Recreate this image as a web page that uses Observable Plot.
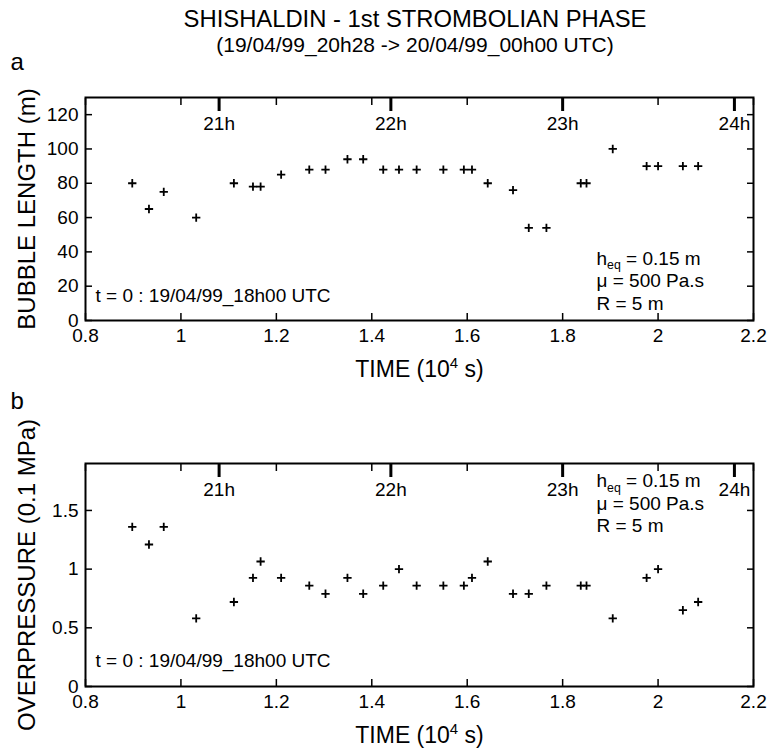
<!DOCTYPE html>
<html>
<head>
<meta charset="utf-8">
<script src="https://cdn.jsdelivr.net/npm/d3@7"></script>
<script src="https://cdn.jsdelivr.net/npm/@observablehq/plot@0.6"></script>
<style>
  body { margin: 0; background: #fff; }
  #wrap { position: relative; width: 771px; height: 751px; font-family: "Liberation Sans", Arial, Helvetica, sans-serif; color: #000; background: #fff; }
  #head { position: relative; height: 56px; }
  .tl { position: absolute; left: 415px; transform: translateX(-50%); white-space: nowrap; line-height: 1; }
  svg { display: block; }
</style>
</head>
<body>
<div id="wrap">
  <div id="head">
    <div class="tl" id="title" style="top:7px;font-size:23.8px"></div>
    <div class="tl" id="subtitle" style="top:34px;font-size:21px"></div>
  </div>
  <div id="charts"></div>
</div>
<script>
// ---------- data ----------
const titleText = "SHISHALDIN - 1st STROMBOLIAN PHASE";
const subtitleText = "(19/04/99_20h28 -> 20/04/99_00h00 UTC)";
const timeTicks = [0.8, 1, 1.2, 1.4, 1.6, 1.8, 2, 2.2];           // 10^4 s
const hourLabels = ["21h", "22h", "23h", "24h"];
const hourTicks = [1.08, 1.44, 1.80, 2.16];                        // 10^4 s after 18h00
const lengthTicks = [0, 20, 40, 60, 80, 100, 120];
const pressureTicks = [0, 0.5, 1, 1.5];
const times = [0.898, 0.933, 0.964, 1.032, 1.111, 1.151, 1.167, 1.210, 1.269, 1.303,
               1.349, 1.382, 1.424, 1.457, 1.494, 1.550, 1.593, 1.610, 1.643, 1.696,
               1.729, 1.766, 1.838, 1.850, 1.905, 1.976, 2.000, 2.052, 2.084];
const bubbleLength = [80, 65, 75, 60, 80, 78, 78, 85, 88, 88,
                      94, 94, 88, 88, 88, 88, 88, 88, 80, 76,
                      54, 54, 80, 80, 100, 90, 90, 90, 90];
const overpressure = [1.36, 1.21, 1.36, 0.58, 0.72, 0.925, 1.065, 0.925, 0.86, 0.79,
                      0.925, 0.79, 0.86, 1.0, 0.86, 0.86, 0.86, 0.925, 1.065, 0.79,
                      0.79, 0.86, 0.86, 0.86, 0.58, 0.925, 1.0, 0.65, 0.72];
const paramLines = ["h_{eq} = 0.15 m", "\u03bc = 500 Pa.s", "R = 5 m"];
const originNote = "t = 0 : 19/04/99_18h00 UTC";
const xLabel = "TIME (10^{4} s)";

const FONT = '"Liberation Sans", Arial, Helvetica, sans-serif';

document.getElementById("title").textContent = titleText;
document.getElementById("subtitle").textContent = subtitleText;

function panel({values, yDomain, yTicks, yLabel, letter, height, marginTop, marginBottom, letterDy, paramsAnchor, paramsDy, noteDy}) {
  const data = times.map((t, i) => ({t, v: values[i]}));
  const mid = {lineAnchor: "middle"};
  return Plot.plot({
    width: 771, height, marginLeft: 85, marginRight: 18, marginTop, marginBottom,
    x: {domain: [0.8, 2.2], axis: null},
    y: {domain: yDomain, axis: null},
    style: {fontFamily: FONT, fontSize: "19px", color: "black", background: "white", overflow: "visible"},
    marks: [
      Plot.axisX({anchor: "bottom", ticks: timeTicks, tickSize: -7, tickPadding: 15, strokeWidth: 1.5, label: null, tickFormat: d => String(d)}),
      Plot.axisX({anchor: "top", ticks: timeTicks, tickSize: -7, strokeWidth: 1.5, label: null, tickFormat: () => ""}),
      Plot.axisX({anchor: "top", ticks: hourTicks, tickSize: -13, strokeWidth: 3, label: null, tickFormat: () => ""}),
      Plot.text(hourTicks, {x: d => d, text: (d, i) => hourLabels[i], frameAnchor: "top", dy: 26, textAnchor: "middle", ...mid}),
      Plot.axisY({anchor: "left", ticks: yTicks, tickSize: -7, tickPadding: 14, strokeWidth: 1.5, label: null, tickFormat: d => String(d)}),
      Plot.axisY({anchor: "right", ticks: yTicks, tickSize: -7, strokeWidth: 1.5, label: null, tickFormat: () => ""}),
      Plot.frame({stroke: "black", strokeWidth: 2}),
      Plot.dot(data, {x: "t", y: "v", symbol: "plus", r: 2.8, stroke: "black", strokeWidth: 1.8}),
      Plot.text([originNote], {frameAnchor: "bottom-left", dx: 10, dy: noteDy, textAnchor: "start", ...mid}),
      ...paramLines.map((s, i) => Plot.text([s], {frameAnchor: paramsAnchor, dx: 511, dy: paramsDy + i * 22.5, textAnchor: "start", ...mid})),
      Plot.text([yLabel], {frameAnchor: "left", dx: -58, rotate: -90, fontSize: 24, textAnchor: "middle", ...mid}),
      Plot.text([xLabel], {frameAnchor: "bottom", dy: 49, fontSize: 23, textAnchor: "middle", ...mid}),
      Plot.text([letter], {frameAnchor: "top-left", dx: -75, dy: letterDy, textAnchor: "start", fontSize: 24, ...mid})
    ]
  });
}

function richText(svg) {
  d3.select(svg).selectAll("text").each(function () {
    const t = this.textContent;
    if (!/[\^_]\{/.test(t) || this.children.length) return;
    const fs = parseFloat(getComputedStyle(this).fontSize) || 19;
    const el = d3.select(this);
    el.text(null);
    const re = /([\^_])\{([^}]*)\}/g;
    let last = 0, m, pending = 0;
    const add = (s, opts) => {
      const ts = el.append("tspan").text(s);
      if (opts) { ts.attr("font-size", opts.size + "px"); }
      if (opts || pending) ts.attr("dy", ((opts ? opts.dy : 0) + pending) + "px");
      pending = 0;
      return ts;
    };
    while ((m = re.exec(t))) {
      if (m.index > last) add(t.slice(last, m.index));
      const sup = m[1] === "^";
      const shift = sup ? -0.38 * fs : 0.24 * fs;
      add(m[2], {size: 0.65 * fs, dy: shift});
      pending = -shift;
      last = re.lastIndex;
    }
    if (last < t.length) add(t.slice(last));
  });
}

const charts = document.getElementById("charts");
const panelA = panel({
  values: bubbleLength, yDomain: [0, 130], yTicks: lengthTicks, yLabel: "BUBBLE LENGTH (m)", letter: "a",
  height: 334, marginTop: 41, marginBottom: 70, letterDy: -35,
  paramsAnchor: "bottom-left", paramsDy: -62, noteDy: -25
});
const panelB = panel({
  values: overpressure, yDomain: [0, 1.9], yTicks: pressureTicks, yLabel: "OVERPRESSURE (0.1 MPa)", letter: "b",
  height: 361, marginTop: 73, marginBottom: 65, letterDy: -62,
  paramsAnchor: "top-left", paramsDy: 17.7, noteDy: -26
});
charts.appendChild(panelA);
charts.appendChild(panelB);
richText(panelA);
richText(panelB);
</script>
</body>
</html>
